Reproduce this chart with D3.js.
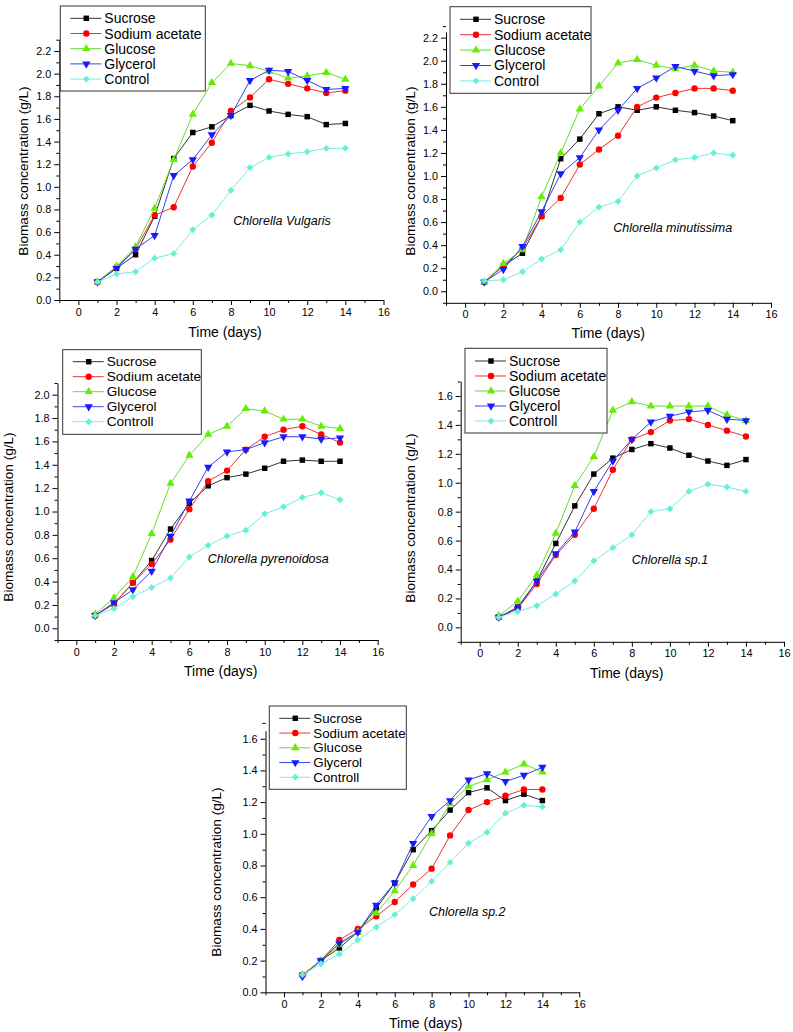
<!DOCTYPE html>
<meta charset="utf-8">
<script src="https://d3js.org/d3.v7.min.js"></script>
<style>
  body { margin: 0; background: #fff; }
  svg text { font-family: "Liberation Sans", Arial, sans-serif; }
</style>
<svg id="chart" width="793" height="1032"></svg>
<script>

// ---- data ----
const days = [1, 2, 3, 4, 5, 6, 7, 8, 9, 10, 11, 12, 13, 14];
const seriesNames = ["Sucrose", "Sodium acetate", "Glucose", "Glycerol"];
const xTickValues = [0, 2, 4, 6, 8, 10, 12, 14, 16];

// rows: Sucrose, Sodium acetate, Glucose, Glycerol, Control
const vulgaris = [
  [0.16, 0.28, 0.40, 0.74, 1.25, 1.48, 1.53, 1.63, 1.72, 1.67, 1.64, 1.62, 1.55, 1.56],
  [0.16, 0.29, 0.45, 0.75, 0.82, 1.18, 1.39, 1.67, 1.79, 1.95, 1.91, 1.87, 1.83, 1.85],
  [0.16, 0.30, 0.47, 0.81, 1.24, 1.64, 1.92, 2.09, 2.07, 2.02, 1.96, 1.98, 2.01, 1.95],
  [0.16, 0.28, 0.45, 0.57, 1.10, 1.24, 1.46, 1.63, 1.94, 2.03, 2.02, 1.94, 1.86, 1.87],
  [0.16, 0.23, 0.25, 0.37, 0.41, 0.62, 0.75, 0.97, 1.17, 1.26, 1.29, 1.31, 1.34, 1.34]
];
const minutissima = [
  [0.08, 0.22, 0.33, 0.65, 1.15, 1.32, 1.54, 1.60, 1.57, 1.60, 1.57, 1.55, 1.52, 1.48],
  [0.08, 0.22, 0.37, 0.65, 0.81, 1.10, 1.23, 1.35, 1.60, 1.68, 1.72, 1.76, 1.76, 1.74],
  [0.08, 0.24, 0.36, 0.82, 1.20, 1.58, 1.78, 1.98, 2.01, 1.96, 1.93, 1.96, 1.91, 1.90],
  [0.08, 0.19, 0.39, 0.69, 1.02, 1.16, 1.40, 1.57, 1.76, 1.85, 1.95, 1.91, 1.87, 1.88],
  [0.09, 0.10, 0.17, 0.28, 0.36, 0.60, 0.73, 0.78, 1.00, 1.07, 1.14, 1.16, 1.20, 1.18]
];
const pyrenoidosa = [
  [0.11, 0.21, 0.39, 0.58, 0.85, 1.07, 1.22, 1.29, 1.32, 1.37, 1.43, 1.44, 1.43, 1.43],
  [0.11, 0.21, 0.39, 0.55, 0.76, 1.02, 1.26, 1.35, 1.53, 1.64, 1.70, 1.73, 1.66, 1.59],
  [0.12, 0.26, 0.44, 0.81, 1.24, 1.48, 1.66, 1.73, 1.88, 1.86, 1.79, 1.79, 1.73, 1.71],
  [0.11, 0.22, 0.33, 0.49, 0.79, 1.09, 1.38, 1.51, 1.53, 1.59, 1.64, 1.64, 1.62, 1.63],
  [0.11, 0.17, 0.27, 0.35, 0.43, 0.61, 0.71, 0.79, 0.84, 0.98, 1.04, 1.12, 1.16, 1.10]
];
const sp1 = [
  [0.07, 0.14, 0.32, 0.58, 0.84, 1.06, 1.17, 1.23, 1.27, 1.24, 1.19, 1.15, 1.12, 1.16],
  [0.07, 0.13, 0.30, 0.50, 0.64, 0.82, 1.09, 1.30, 1.35, 1.43, 1.44, 1.40, 1.36, 1.32],
  [0.08, 0.18, 0.36, 0.65, 0.98, 1.18, 1.50, 1.56, 1.53, 1.53, 1.53, 1.53, 1.47, 1.43],
  [0.07, 0.13, 0.32, 0.51, 0.66, 0.94, 1.15, 1.30, 1.42, 1.46, 1.49, 1.50, 1.44, 1.43],
  [0.07, 0.11, 0.15, 0.23, 0.32, 0.46, 0.55, 0.64, 0.80, 0.82, 0.94, 0.99, 0.97, 0.94]
];
const sp2 = [
  [0.11, 0.20, 0.28, 0.38, 0.53, 0.69, 0.90, 1.02, 1.15, 1.26, 1.29, 1.21, 1.25, 1.21],
  [0.11, 0.20, 0.33, 0.40, 0.48, 0.57, 0.68, 0.78, 0.99, 1.15, 1.20, 1.24, 1.28, 1.28],
  [0.11, 0.20, 0.30, 0.38, 0.50, 0.64, 0.80, 1.00, 1.19, 1.30, 1.34, 1.39, 1.44, 1.39],
  [0.10, 0.20, 0.31, 0.38, 0.55, 0.69, 0.94, 1.11, 1.21, 1.34, 1.38, 1.33, 1.37, 1.42],
  [0.11, 0.18, 0.24, 0.33, 0.41, 0.49, 0.59, 0.70, 0.82, 0.94, 1.01, 1.13, 1.18, 1.17]
];

// ---- styling ----
const lineColors = ["#333333", "#ee3333", "#66dd33", "#3344ee", "#77eedd"];
const markColors = ["#000000", "#ff0000", "#66ee00", "#1a1aff", "#66f0d8"];
const shapes = ["square", "circle", "up", "down", "diamond"];

// pixel layout of each panel
const panels = [
  { values: vulgaris, species: "Chlorella Vulgaris", control: "Control",
    xr: [59.3, 383.5], yd: [0, 2.3], yr: [300, 39.7],
    legend: { x: 60.3, y: 6, w: 145, h: 85, row0: 12.3, step: 15.2, fs: 14 },
    speciesAt: [282, 221], xTitleAt: [225, 332], yTitleAt: [23.5, 171] },
  { values: minutissima, species: "Chlorella minutissima", control: "Control",
    xr: [446, 771], yd: [-0.1, 2.25], yr: [302.8, 31.9],
    legend: { x: 450, y: 6.7, w: 141, h: 86.6, row0: 12.6, step: 15.4, fs: 14 },
    speciesAt: [672.7, 228], xTitleAt: [608.3, 333], yTitleAt: [410, 171] },
  { values: pyrenoidosa, species: "Chlorella pyrenoidosa", control: "Controll",
    xr: [57.5, 377.7], yd: [-0.1, 2.1], yr: [640, 383],
    legend: { x: 62.7, y: 349.7, w: 138.6, h: 84.6, row0: 12, step: 15, fs: 13.6 },
    speciesAt: [268.3, 559], xTitleAt: [220.7, 671], yTitleAt: [8, 517] },
  { values: sp1, species: "Chlorella sp.1", control: "Controll",
    xr: [460.7, 784], yd: [-0.1, 1.7], yr: [641.8, 381.5],
    legend: { x: 465, y: 348.3, w: 142, h: 84.7, row0: 12.7, step: 15, fs: 14 },
    speciesAt: [670, 560], xTitleAt: [626.7, 673.3], yTitleAt: [410, 518] },
  { values: sp2, species: "Chlorella sp.2", control: "Controll",
    xr: [265.5, 579.3], yd: [0, 1.65], yr: [992.3, 730.8],
    legend: { x: 269.3, y: 706, w: 137, h: 83.3, row0: 12.3, step: 14.75, fs: 13.3 },
    speciesAt: [467.3, 912.3], xTitleAt: [425.7, 1022.7], yTitleAt: [216.7, 872] }
];

const svg = d3.select("#chart");

function marker(sel, k) {
  const s = shapes[k];
  let path;
  if (s === "square") path = d3.symbol(d3.symbolSquare, 30)();
  else if (s === "circle") path = d3.symbol(d3.symbolCircle, 32)();
  else if (s === "up" || s === "down") path = d3.symbol(d3.symbolTriangle, 30)();
  else path = d3.symbol(d3.symbolSquare, 24)();
  sel.attr("d", path)
    .attr("fill", markColors[k])
    .attr("transform", function () {
      const t = d3.select(this).attr("data-t");
      const rot = s === "down" ? " rotate(180)" : s === "diamond" ? " rotate(45)" : "";
      return t + rot;
    });
}

panels.forEach(p => {
  const g = svg.append("g");
  const x = d3.scaleLinear().domain([-1, 16]).range(p.xr);
  const y = d3.scaleLinear().domain(p.yd).range(p.yr);

  const yMajor = d3.range(0, p.yd[1] + 1e-9, 0.2).map(v => +v.toFixed(1));
  const yMinor = d3.range(Math.round(p.yd[0] * 10), Math.round(p.yd[1] * 10) + 1)
    .map(v => v / 10).filter(v => Math.round(v * 10) % 2 !== 0);
  const xMinor = [-1, 1, 3, 5, 7, 9, 11, 13, 15];

  // axes
  g.append("g").attr("transform", `translate(0,${p.yr[0]})`)
    .call(d3.axisBottom(x).tickValues(xTickValues).tickSize(5).tickSizeOuter(0).tickPadding(3));
  g.append("g").attr("transform", `translate(0,${p.yr[0]})`)
    .call(d3.axisBottom(x).tickValues(xMinor).tickSize(3).tickFormat("").tickSizeOuter(0))
    .select(".domain").remove();
  g.append("g").attr("transform", `translate(${p.xr[0]},0)`)
    .call(d3.axisLeft(y).tickValues(yMajor).tickFormat(d3.format(".1f")).tickSize(5).tickSizeOuter(0).tickPadding(3));
  g.append("g").attr("transform", `translate(${p.xr[0]},0)`)
    .call(d3.axisLeft(y).tickValues(yMinor).tickSize(3).tickFormat("").tickSizeOuter(0))
    .select(".domain").remove();
  g.selectAll(".tick text").attr("font-size", 10.8).attr("fill", "#000")
    .style("font-family", "'Liberation Sans', Arial, sans-serif");
  g.selectAll(".domain, .tick line").attr("stroke", "#000").attr("stroke-width", 1);

  // series lines then markers, in series order
  p.values.forEach((vals, k) => {
    const pts = days.map((d, i) => [d, vals[i]]);
    g.append("path")
      .datum(pts)
      .attr("fill", "none")
      .attr("stroke", lineColors[k])
      .attr("stroke-width", 1)
      .attr("d", d3.line().x(d => x(d[0])).y(d => y(d[1])));
    g.selectAll(null)
      .data(pts)
      .join("path")
      .attr("data-t", d => `translate(${x(d[0])},${y(d[1])})`)
      .call(marker, k);
  });

  // species label
  g.append("text")
    .attr("x", p.speciesAt[0]).attr("y", p.speciesAt[1])
    .attr("text-anchor", "middle").attr("dominant-baseline", "central")
    .attr("font-size", 12.5).attr("font-style", "italic")
    .text(p.species);

  // axis titles
  g.append("text")
    .attr("x", p.xTitleAt[0]).attr("y", p.xTitleAt[1])
    .attr("text-anchor", "middle").attr("dominant-baseline", "central")
    .attr("font-size", 14)
    .text("Time (days)");
  g.append("text")
    .attr("transform", `translate(${p.yTitleAt[0]},${p.yTitleAt[1]}) rotate(-90)`)
    .attr("text-anchor", "middle").attr("dominant-baseline", "central")
    .attr("font-size", 13.6)
    .text("Biomass concentration (g/L)");

  // legend
  const L = p.legend;
  const lg = g.append("g").attr("transform", `translate(${L.x},${L.y})`);
  lg.append("rect").attr("width", L.w).attr("height", L.h)
    .attr("fill", "#fff").attr("stroke", "#333").attr("stroke-width", 1);
  const labels = seriesNames.concat([p.control]);
  labels.forEach((name, k) => {
    const ry = L.row0 + k * L.step;
    lg.append("line").attr("x1", 10).attr("x2", 41).attr("y1", ry).attr("y2", ry)
      .attr("stroke", lineColors[k]).attr("stroke-width", 1);
    lg.append("path").attr("data-t", `translate(26,${ry})`).call(marker, k);
    lg.append("text").attr("x", 44).attr("y", ry)
      .attr("dominant-baseline", "central").attr("font-size", L.fs)
      .text(name);
  });
});

</script>
